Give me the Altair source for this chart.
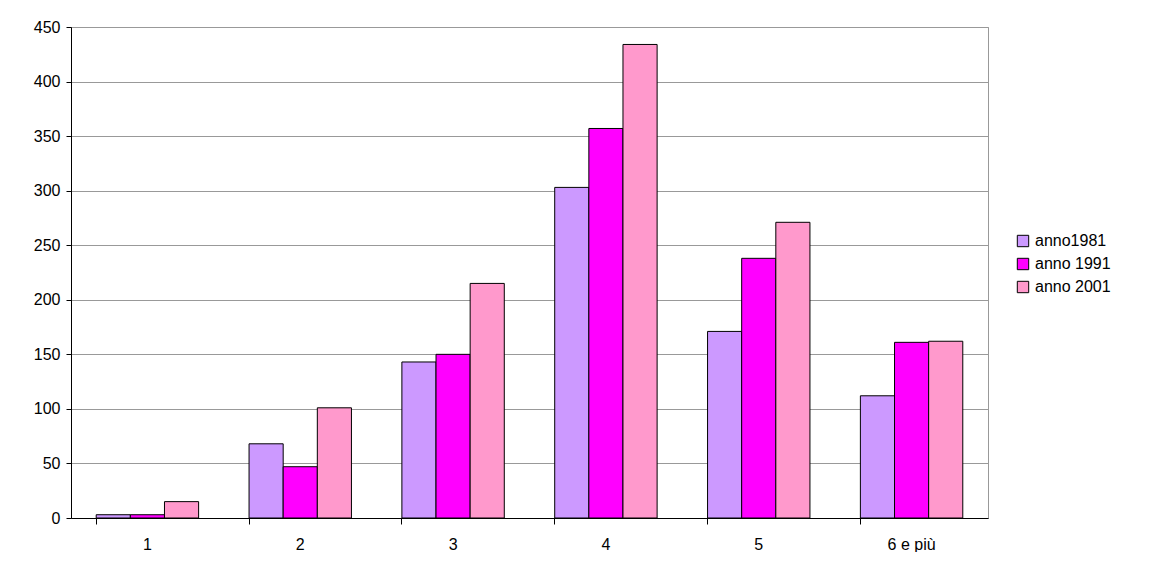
import altair as alt
import pandas as pd

categories = ["1", "2", "3", "4", "5", "6 e più"]
series = ["anno1981", "anno 1991", "anno 2001"]
v1981 = [3, 68, 143, 303, 171, 112]
v1991 = [3, 47, 150, 357, 238, 161]
v2001 = [15, 101, 215, 434, 271, 162]

COLORS = ["#CC99FF", "#FF00FF", "#FF99CC"]

rows = []
for name, vals in zip(series, [v1981, v1991, v2001]):
    for c, v in zip(categories, vals):
        rows.append({"cat": c, "serie": name, "val": v})
df = pd.DataFrame(rows)

FONT = "Liberation Sans"

chart = alt.Chart(df).mark_bar(stroke="black", strokeWidth=1).encode(
    x=alt.X("cat:N", sort=categories, title=None,
            scale=alt.Scale(paddingInner=0.33, paddingOuter=0.165),
            axis=alt.Axis(labelAngle=0, bandPosition=0, domainColor="black", tickColor="black",
                          tickSize=6, labelPadding=12, labelFontSize=16, labelColor="black",
                          labelFont=FONT)),
    xOffset=alt.XOffset("serie:N", sort=series),
    y=alt.Y("val:Q", title=None, scale=alt.Scale(domain=[0, 450]),
            axis=alt.Axis(values=list(range(0, 451, 50)), gridColor="#999999", domainColor="black",
                          tickColor="black", labelFontSize=16, labelColor="black",
                          labelFont=FONT, labelPadding=6)),
    color=alt.Color("serie:N", sort=series, scale=alt.Scale(domain=series, range=COLORS),
                    legend=alt.Legend(title=None, symbolType="square", symbolStrokeColor="black",
                                      symbolStrokeWidth=1, symbolSize=130, labelFontSize=16,
                                      labelFont=FONT, labelColor="black",
                                      orient="none", legendX=944, legendY=206,
                                      rowPadding=7)),
).properties(
    width=917, height=491,
    padding={"left": 25, "top": 11, "right": 0, "bottom": 0},
).configure_view(stroke="#999999")

chart.save("out.html", embed_options={"renderer": "svg", "actions": False})
